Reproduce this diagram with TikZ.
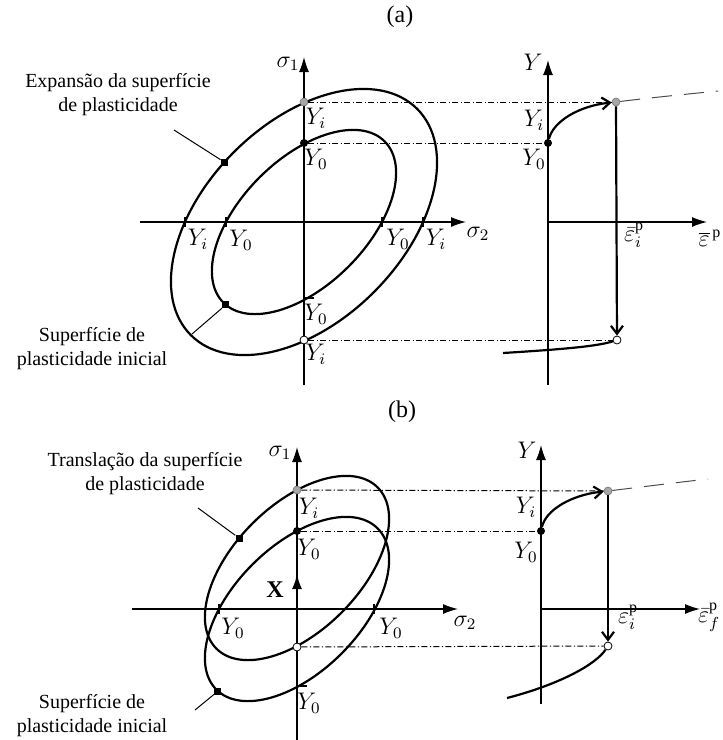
\documentclass[tikz,border=0pt]{standalone}
\usepackage{fontspec}
\setmainfont{Liberation Serif}
\usetikzlibrary{arrows.meta,calc,positioning}

\tikzset{
  axis/.style={line width=0.6pt,-{Latex[length=7.5pt,width=5pt]}},
  surf/.style={line width=1.1pt},
  proj/.style={line width=0.5pt,dash pattern=on 3pt off 1.2pt on 0.6pt off 1.2pt},
  hard/.style={line width=0.5pt,black!70,dash pattern=on 10pt off 6pt},
  lead/.style={line width=0.5pt},
  flow/.style={line width=1.1pt,-{Straight Barb[length=4pt,width=6pt]}},
  tickl/.style={line width=0.6pt},
  ptblack/.style={circle,fill=black,inner sep=0pt,minimum size=4pt},
  ptgray/.style={circle,draw=black!55,line width=0.3pt,fill=black!35,inner sep=0pt,minimum size=4pt},
  ptwhite/.style={circle,draw=black,line width=0.4pt,fill=white,inner sep=0pt,minimum size=4pt},
  sqmark/.style={rectangle,fill=black,inner sep=0pt,minimum size=3.5pt},
  note/.style={align=center,font=\normalsize},
  lab/.style={font=\large,inner sep=1pt}
}

\begin{document}
\begin{tikzpicture}[x=0.5pt,y=0.5pt]
\useasboundingbox (0,0) rectangle (723,-740);

% Titles
\node[lab] (ttla) at (400,-17) {(a)};
\node[lab] (ttlb) at (402,-412) {(b)};

% ---------- (a) expansion ----------
\begin{scope}[shift={(304,-222)}]
  % Axes
  \draw[axis] (0,-163) -- (0,165);
  \draw[axis] (-164,0) -- (162,0);
  \node[lab] (s1a) at (-16,158) {$\sigma_1$};
  \node[lab] (s2a) at (174,-12) {$\sigma_2$};
  % Yield surfaces
  \draw[surf,rotate=45] (0,0) ellipse (160 and 99);
  \draw[surf,rotate=45] (0,0) ellipse (114 and 63);
  % Ticks
  \foreach \x in {-119,-78,78,119}
    \draw[tickl] (\x,5) -- (\x,-5);
  \draw[tickl] (-1,-76) -- (10,-76);
  % Points on sigma_1
  \node[ptgray] (gla) at (0,120) {};
  \node[ptblack] (bla) at (0,79) {};
  \node[ptwhite] (wla) at (0,-118) {};
  % Labels
  \node[lab] (yita) at (12,104) {$Y_i$};
  \node[lab] (y0ta) at (12,63) {$Y_0$};
  \node[lab] (yila) at (-106,-17) {$Y_i$};
  \node[lab] (y0la) at (-63,-18) {$Y_0$};
  \node[lab] (y0ra) at (94,-17) {$Y_0$};
  \node[lab] (yira) at (132,-17) {$Y_i$};
  \node[lab] (y0ba) at (12,-92) {$Y_0$};
  \node[lab] (yiba) at (12,-132) {$Y_i$};
  % Markers
  \path[rotate=45] (95:160 and 99) node[sqmark] (mkoa) {};
  \path[rotate=45] (183:114 and 63) node[sqmark] (mkia) {};
  \coordinate (ldoa) at (-130,92);
  \coordinate (ldia) at (-112,-112);
  \draw[lead] (mkoa) -- (ldoa);
  \draw[lead] (mkia) -- (ldia);
\end{scope}

\node[note] (expa) at (118,-95) {Expansão da superfície\\de plasticidade};
\node[note] (inia) at (92,-349) {Superfície de\\plasticidade inicial};

% Hardening curve (a)
\begin{scope}[shift={(548,-222)}]
  \draw[axis] (0,-163) -- (0,162);
  \draw[axis] (0,0) -- (159,0);
  \node[lab] (yaxa) at (-15,160) {$Y$};
  \node[lab] (epa) at (162,-16) {$\overline{\varepsilon}^{\,\mathrm{p}}$};
  \node[ptblack] (bra) at (0,79) {};
  \node[ptgray] (gra) at (68,120) {};
  \node[ptwhite] (wra) at (69,-118) {};
  \coordinate (hea) at (170,131);
  \coordinate (cta) at (-45,-131);
  \draw[flow] (bra) .. controls (5,100) and (30,116) .. (gra);
  \draw[hard] (gra) .. controls (100,124) and (140,128) .. (hea);
  \draw[flow] (gra) -- (wra);
  \draw[surf] (cta) .. controls (20,-127) and (50,-124) .. (wra);
  \node[lab] (yirta) at (-14,102) {$Y_i$};
  \node[lab] (y0rta) at (-14,63) {$Y_0$};
  \node[lab] (epia) at (86,-13) {$\bar{\varepsilon}_i^{\mathrm{p}}$};
\end{scope}

% Projections (a)
\draw[proj] (gla) -- (gra);
\draw[proj] (bla) -- (bra);
\draw[proj] (wla) -- (wra);

% ---------- (b) translation ----------
\begin{scope}[shift={(297,-609)}]
  % Axes
  \draw[axis] (0,-131) -- (0,162);
  \draw[axis] (-165,0) -- (161,0);
  \node[lab] (s1b) at (-17,156) {$\sigma_1$};
  \node[lab] (s2b) at (168,-14) {$\sigma_2$};
  % Yield surfaces
  \draw[surf,rotate=45] (0,0) ellipse (114 and 63);
  \begin{scope}[shift={(0,41)}]
    \draw[surf,rotate=45] (0,0) ellipse (114 and 63);
    \path[rotate=45] (100:114 and 63) node[sqmark] (mktb) {};
  \end{scope}
  % Back stress
  \draw[axis,line width=1pt] (0,0) -- (0,35);
  \node[lab,font=\large\bfseries] (xb) at (-22,19) {X};
  % Ticks
  \foreach \x in {-78,77}
    \draw[tickl] (\x,5) -- (\x,-5);
  \draw[tickl] (-1,-77) -- (10,-77);
  % Points on sigma_1
  \node[ptgray] (glb) at (0,119) {};
  \node[ptblack] (blb) at (0,78) {};
  \node[ptwhite] (wlb) at (0,-38) {};
  % Labels
  \node[lab] (yitb) at (12,101) {$Y_i$};
  \node[lab] (y0tb) at (12,60) {$Y_0$};
  \node[lab] (y0lb) at (-64,-19) {$Y_0$};
  \node[lab] (y0rb) at (94,-19) {$Y_0$};
  \node[lab] (y0bb) at (12,-94) {$Y_0$};
  % Markers
  \path[rotate=45] (182:114 and 63) node[sqmark] (mkib) {};
  \coordinate (ldtb) at (-99,101);
  \coordinate (ldib) at (-102,-101);
  \draw[lead] (mktb) -- (ldtb);
  \draw[lead] (mkib) -- (ldib);
\end{scope}

\node[note] (trab) at (145,-474) {Translação da superfície\\de plasticidade};
\node[note] (inib) at (92,-716) {Superfície de\\plasticidade inicial};

% Hardening curve (b)
\begin{scope}[shift={(541,-609)}]
  \draw[axis] (0,-95) -- (0,164);
  \draw[axis] (0,0) -- (159,0);
  \node[lab] (yaxb) at (-14,159) {$Y$};
  \node[lab] (epb) at (168,-8) {$\bar{\varepsilon}_f^{\mathrm{p}}$};
  \node[ptblack] (brb) at (0,78) {};
  \node[ptgray] (grb) at (67,118) {};
  \node[ptwhite] (wrb) at (67,-37) {};
  \coordinate (heb) at (167,130);
  \coordinate (ctb) at (-34,-89);
  \draw[flow] (brb) .. controls (5,99) and (30,114) .. (grb);
  \draw[hard] (grb) .. controls (100,122) and (140,127) .. (heb);
  \draw[flow] (grb) -- (wrb);
  \draw[surf] (wrb) .. controls (55,-55) and (20,-75) .. (ctb);
  \node[lab] (yirtb) at (-15,102) {$Y_i$};
  \node[lab] (y0rtb) at (-15,57) {$Y_0$};
  \node[lab] (epib) at (87,-8) {$\bar{\varepsilon}_i^{\mathrm{p}}$};
\end{scope}

% Projections (b)
\draw[proj] (glb) -- (grb);
\draw[proj] (blb) -- (brb);
\draw[proj] (wlb) -- (wrb);
\end{tikzpicture}
\end{document}
